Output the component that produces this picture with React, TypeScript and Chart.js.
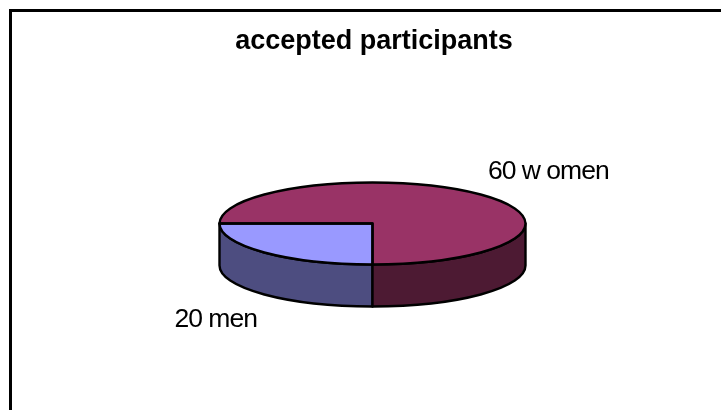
import React, { useEffect, useRef } from "react";
import { Chart, registerables } from "chart.js";

Chart.register(...registerables);

const titleText = "accepted participants";
const categories = ["men", "women"];
const values = [20, 60];
const topColors = ["#9999FF", "#993366"];
const sideColors = ["#4D4D80", "#4D1A33"];
const labelTexts = ["20 men", "60 w omen"];

const WIDTH = 721;
const HEIGHT = 410;
const CENTER_X = 372.5;
const CENTER_Y = 223.5;
const RADIUS_X = 153;
const RADIUS_Y = 41;
const DEPTH = 42;
const TAU = Math.PI * 2;
const labelAnchors = [
  { x: 174.5, y: 327 },
  { x: 488, y: 179 },
];

function applyTilt(ctx: CanvasRenderingContext2D, arc: any) {
  ctx.translate(CENTER_X, CENTER_Y);
  ctx.scale(RADIUS_X / arc.outerRadius, RADIUS_Y / arc.outerRadius);
  ctx.translate(-arc.x, -arc.y);
}

// Portions of a slice's rim that face the viewer (canvas angles 0..PI, modulo a turn)
function frontRanges(start: number, end: number) {
  const out: [number, number][] = [];
  for (let k = -2; k <= 2; k++) {
    const a = Math.max(start, k * TAU);
    const b = Math.min(end, k * TAU + Math.PI);
    if (b > a) out.push([a, b]);
  }
  return out;
}

const pie3d = {
  id: "pie3d",
  beforeDraw(chart: any) {
    const { ctx } = chart;
    ctx.save();
    ctx.strokeStyle = "#000";
    ctx.lineWidth = 3;
    ctx.beginPath();
    ctx.moveTo(10.5, HEIGHT);
    ctx.lineTo(10.5, 10.5);
    ctx.lineTo(WIDTH, 10.5);
    ctx.stroke();
    ctx.restore();
  },
  beforeDatasetsDraw(chart: any) {
    const { ctx } = chart;
    const arcs = chart.getDatasetMeta(0).data;
    arcs.forEach((arc: any, i: number) => {
      frontRanges(arc.startAngle, arc.endAngle).forEach(([a, b]) => {
        ctx.save();
        ctx.beginPath();
        ctx.save();
        applyTilt(ctx, arc);
        ctx.arc(arc.x, arc.y, arc.outerRadius, a, b);
        ctx.restore();
        ctx.save();
        ctx.translate(0, DEPTH);
        applyTilt(ctx, arc);
        ctx.arc(arc.x, arc.y, arc.outerRadius, b, a, true);
        ctx.restore();
        ctx.closePath();
        ctx.fillStyle = sideColors[i];
        ctx.fill();
        ctx.strokeStyle = "#000";
        ctx.lineWidth = 2.4;
        ctx.lineJoin = "round";
        ctx.stroke();
        ctx.restore();
      });
    });
    ctx.save();
    applyTilt(ctx, arcs[0]);
  },
  afterDatasetsDraw(chart: any) {
    const { ctx } = chart;
    ctx.restore();
    const arcs = chart.getDatasetMeta(0).data;
    arcs.forEach((arc: any) => {
      ctx.save();
      ctx.beginPath();
      ctx.save();
      applyTilt(ctx, arc);
      ctx.moveTo(arc.x, arc.y);
      ctx.arc(arc.x, arc.y, arc.outerRadius, arc.startAngle, arc.endAngle);
      ctx.closePath();
      ctx.restore();
      ctx.strokeStyle = "#000";
      ctx.lineWidth = 2.4;
      ctx.lineJoin = "round";
      ctx.stroke();
      ctx.restore();
    });
    ctx.save();
    ctx.font = '26.5px "Liberation Sans", Arial, sans-serif';
    (ctx as any).letterSpacing = "-1px";
    ctx.fillStyle = "#000";
    ctx.textBaseline = "alphabetic";
    ctx.textAlign = "left";
    labelTexts.forEach((t, i) => ctx.fillText(t, labelAnchors[i].x, labelAnchors[i].y));
    ctx.restore();
  },
};

export default function App() {
  const ref = useRef<HTMLCanvasElement | null>(null);
  useEffect(() => {
    if (!ref.current) return;
    const chart = new Chart(ref.current, {
      type: "pie",
      data: {
        labels: categories,
        datasets: [
          {
            data: values,
            backgroundColor: topColors,
            borderWidth: 0,
            clip: false,
          } as any,
        ],
      },
      options: {
        animation: false,
        responsive: false,
        rotation: 180,
        radius: RADIUS_X,
        layout: { padding: { left: 27 } },
        plugins: {
          legend: { display: false },
          tooltip: { enabled: false },
          title: {
            display: true,
            text: titleText,
            color: "#000",
            font: { family: '"Liberation Sans", Arial, sans-serif', size: 27, weight: "bold" },
            padding: { top: 25, bottom: 6 },
          },
        },
      },
      plugins: [pie3d],
    });
    return () => chart.destroy();
  }, []);
  return (
    <canvas
      ref={ref}
      width={WIDTH}
      height={HEIGHT}
      style={{ position: "fixed", left: 0, top: 0, width: WIDTH, height: HEIGHT, display: "block" }}
    />
  );
}
